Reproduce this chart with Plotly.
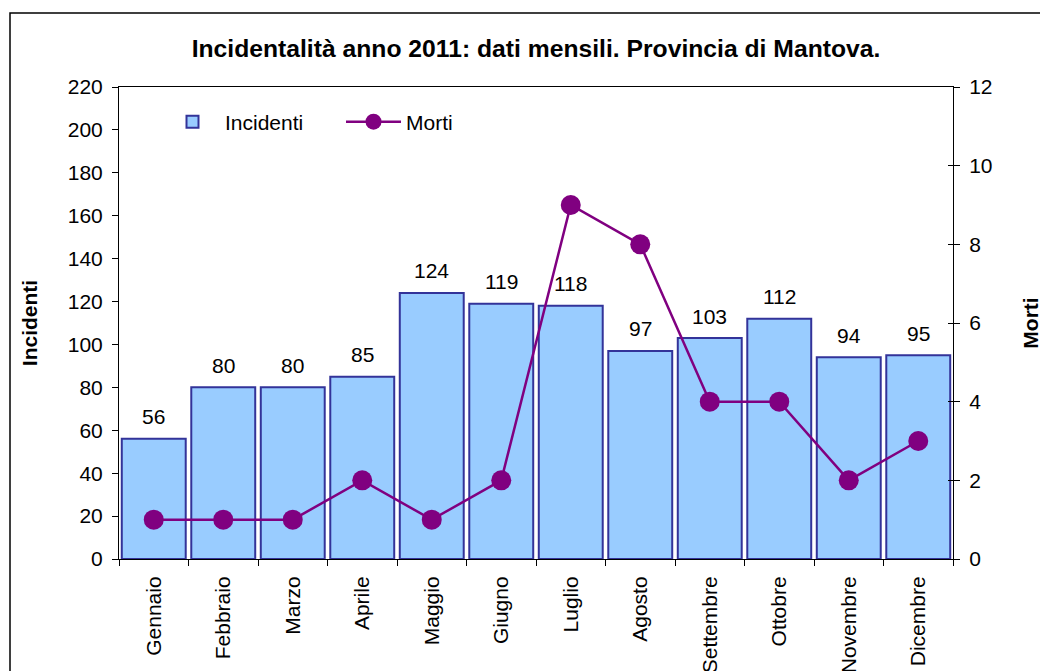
import plotly.graph_objects as go

mesi = ["Gennaio", "Febbraio", "Marzo", "Aprile", "Maggio", "Giugno",
        "Luglio", "Agosto", "Settembre", "Ottobre", "Novembre", "Dicembre"]
incidenti = [56, 80, 80, 85, 124, 119, 118, 97, 103, 112, 94, 95]
morti = [1, 1, 1, 2, 1, 2, 9, 8, 4, 4, 2, 3]

FONT = "Liberation Sans, Arial, sans-serif"
FS = 21

# page has an 8px body margin
W, H = 1040, 663
L, T, R, B = 111, 79, 95, 112
PW, PH = W - L - R, H - T - B  # 834 x 472


def px(xpage):
    return (xpage - 8 - L) / PW


def py(ypage):
    return (T + PH - (ypage - 8)) / PH


fig = go.Figure()
fig.add_trace(go.Bar(
    x=mesi, y=incidenti, name="Incidenti",
    marker=dict(color="#99CCFF", line=dict(color="#333399", width=2)),
))
fig.add_trace(go.Scatter(
    x=mesi, y=morti, name="Morti", yaxis="y2", mode="lines+markers",
    line=dict(color="#800080", width=2.5),
    marker=dict(color="#800080", size=20),
    cliponaxis=False,
))
# helper trace so the inside-tick copy of the right axis is drawn
fig.add_trace(go.Scatter(
    x=mesi, y=morti, yaxis="y3", mode="lines", line=dict(width=0),
    opacity=0, showlegend=False, hoverinfo="skip",
))

annotations = [
    dict(x=m, y=v, xref="x", yref="y", text=str(v), showarrow=False,
         yanchor="middle", yshift=22, font=dict(size=FS, color="black", family=FONT))
    for m, v in zip(mesi, incidenti)
]

fig.update_layout(
    width=W, height=H,
    margin=dict(l=L, r=R, t=T, b=B),
    paper_bgcolor="white", plot_bgcolor="white",
    font=dict(family=FONT, size=FS, color="black"),
    bargap=0.08,
    showlegend=True,
    legend=dict(orientation="h", x=px(160), y=py(122),
                xanchor="left", yanchor="middle",
                font=dict(size=FS), bgcolor="rgba(0,0,0,0)", itemwidth=55,
                traceorder="normal", entrywidth=111),
    title=dict(text="<b>Incidentalità anno 2011: dati mensili. Provincia di Mantova.</b>",
               x=(536 - 8) / W, xanchor="center", y=1 - (48 - 8) / H, yanchor="middle",
               font=dict(size=24.7, family=FONT)),
    xaxis=dict(type="category", range=[-0.5, 11.5], tickangle=-90, showline=True,
               linecolor="black", linewidth=1, ticks="outside", tickson="boundaries",
               ticklen=6, tickcolor="black", mirror=True, tickfont=dict(size=FS),
               automargin=False, ticklabelstandoff=8),
    yaxis=dict(range=[0, 220], dtick=20, showline=True, linecolor="black", linewidth=1,
               ticks="outside", ticklen=6, tickcolor="black", showgrid=False,
               zeroline=False, tickfont=dict(size=FS), automargin=False,
               ticklabelstandoff=5,
               title=dict(text="<b>Incidenti</b>", font=dict(size=FS), standoff=24)),
    yaxis2=dict(range=[0, 12], dtick=2, overlaying="y", side="right", showline=True,
                linecolor="black", linewidth=1, ticks="outside", ticklen=6,
                tickcolor="black", showgrid=False, zeroline=False, tickfont=dict(size=FS),
                automargin=False, ticklabelstandoff=5,
                title=dict(text="<b>Morti</b>", font=dict(size=FS), standoff=31)),
    yaxis3=dict(range=[0, 12], dtick=2, overlaying="y", side="right", showline=False,
                ticks="inside", ticklen=5, tickcolor="black", showgrid=False,
                zeroline=False, showticklabels=False, automargin=False),
    annotations=annotations,
    shapes=[dict(type="rect", xref="paper", yref="paper",
                 x0=px(10), x1=px(1070),
                 y0=py(730), y1=py(13),
                 line=dict(color="black", width=1.5), layer="below")],
)

fig.write_html("out.html")
